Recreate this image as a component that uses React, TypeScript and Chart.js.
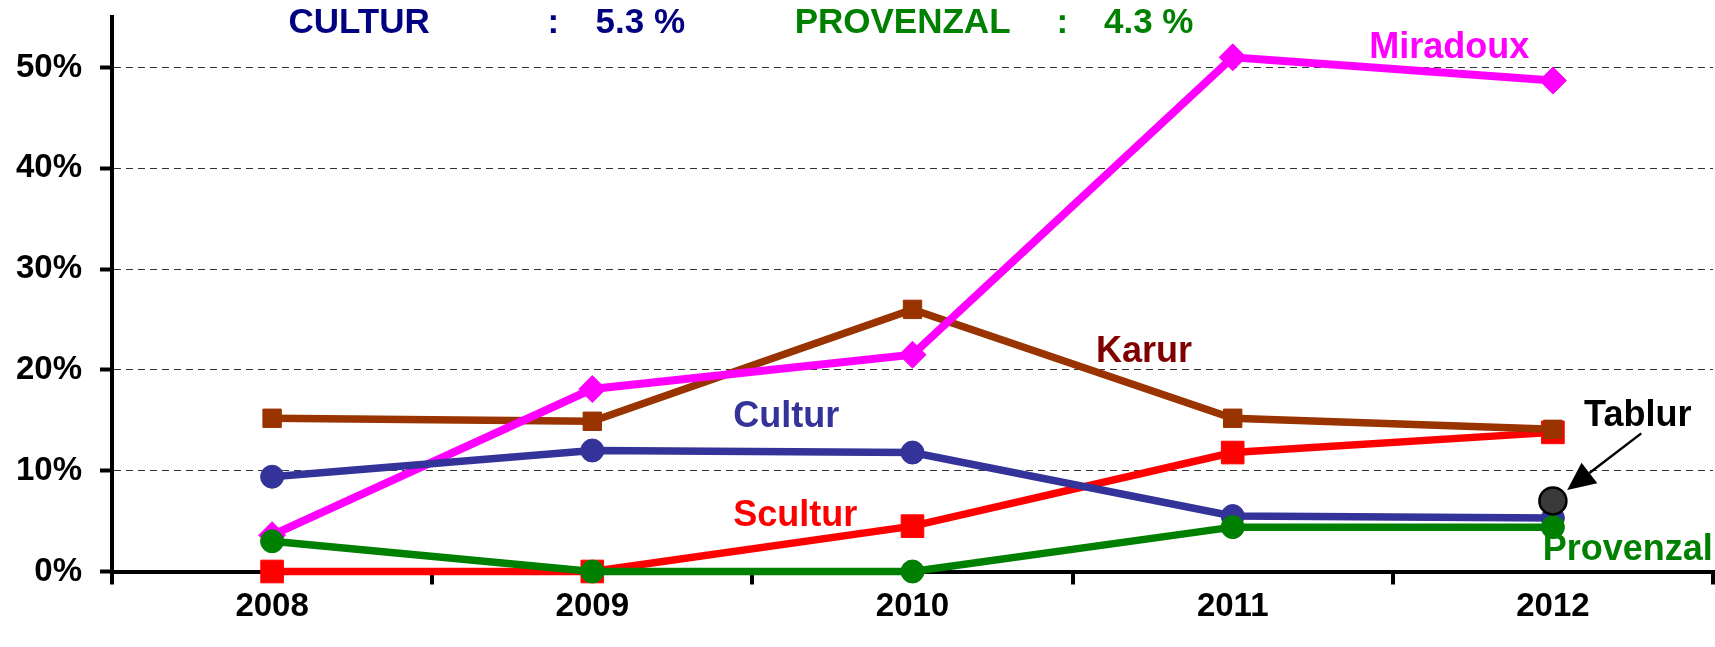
import React, { useEffect, useRef } from 'react';
import { Chart, registerables } from 'chart.js';

Chart.register(...registerables);

const years = ['2008', '2009', '2010', '2011', '2012'];
const miradoux = [3.6, 18.1, 21.5, 51.0, 48.7];
const karur = [15.2, 14.9, 26.0, 15.2, 14.1];
const cultur = [9.4, 12.0, 11.8, 5.5, 5.3];
const scultur = [0, 0, 4.5, 11.8, 13.8];
const provenzal = [3.0, 0, 0, 4.4, 4.4];
const tablur = [null, null, null, null, 7.0];
const yTicks = [0, 10, 20, 30, 40, 50];

const seriesLabels = ['Miradoux', 'Karur', 'Cultur', 'Scultur', 'Tablur', 'Provenzal'];
const seriesLabelColors = ['#FF00FF', '#800000', '#333399', '#FF0000', '#000000', '#008000'];
const seriesLabelIdx = [3.676, 2.723, 1.606, 1.634, 4.265, 4.234];
const seriesLabelVal = [51.9, 21.8, 15.3, 5.5, 15.45, 2.1];

const headerTexts = ['CULTUR', ':', '5.3 %', 'PROVENZAL', ':', '4.3 %'];
const headerColors = ['#000080', '#000080', '#000080', '#008000', '#008000', '#008000'];
const headerIdx = [0.051, 0.878, 1.01, 1.632, 2.468, 2.598];
const headerAlign = ['left', 'center', 'left', 'left', 'center', 'left'];
const headerVal = 54.4;

const arrowFromIdx = 4.276;
const arrowFromVal = 13.7;

const FONT = '"Liberation Sans", Arial, Helvetica, sans-serif';
const RIGHT_GAP = 2;

// Chart.js reserves room on the right for the last x label; the reference axis runs to the edge.
const fitRight = {
  id: 'fitRight',
  afterLayout(chart: any) {
    const ca = chart.chartArea;
    const target = chart.width - RIGHT_GAP;
    const xs = chart.scales.x;
    ca.right = target;
    ca.width = target - ca.left;
    xs.right = target;
    xs.width = target - xs.left;
    xs.configure();
  },
};

const annotate = {
  id: 'annotate',
  afterDatasetsDraw(chart: any) {
    const ctx = chart.ctx;
    const xs = chart.scales.x;
    const ys = chart.scales.y;
    const p0 = xs.getPixelForValue(0);
    const step = xs.getPixelForValue(1) - p0;
    const px = (i: number) => p0 + i * step;
    ctx.save();
    ctx.textBaseline = 'middle';
    // header
    ctx.font = `bold 35px ${FONT}`;
    headerTexts.forEach((t, i) => {
      ctx.fillStyle = headerColors[i];
      ctx.textAlign = headerAlign[i] as CanvasTextAlign;
      ctx.fillText(t, px(headerIdx[i]), ys.getPixelForValue(headerVal));
    });
    // series labels
    ctx.font = `bold 36px ${FONT}`;
    ctx.textAlign = 'center';
    seriesLabels.forEach((t, i) => {
      ctx.fillStyle = seriesLabelColors[i];
      ctx.fillText(t, px(seriesLabelIdx[i]), ys.getPixelForValue(seriesLabelVal[i]));
    });
    // arrow to Tablur point
    const meta = chart.getDatasetMeta(5);
    const pt = meta.data[4];
    if (pt) {
      const sx = px(arrowFromIdx);
      const sy = ys.getPixelForValue(arrowFromVal);
      const dx = sx - pt.x;
      const dy = sy - pt.y;
      const len = Math.hypot(dx, dy);
      const ux = dx / len;
      const uy = dy / len;
      const tipX = pt.x + ux * 18;
      const tipY = pt.y + uy * 18;
      const headLen = 28;
      const headHalf = 13;
      const bx = tipX + ux * headLen;
      const by = tipY + uy * headLen;
      ctx.strokeStyle = '#000';
      ctx.lineWidth = 2.5;
      ctx.beginPath();
      ctx.moveTo(sx, sy);
      ctx.lineTo(bx, by);
      ctx.stroke();
      ctx.fillStyle = '#000';
      ctx.beginPath();
      ctx.moveTo(tipX, tipY);
      ctx.lineTo(bx - uy * headHalf, by + ux * headHalf);
      ctx.lineTo(bx + uy * headHalf, by - ux * headHalf);
      ctx.closePath();
      ctx.fill();
    }
    ctx.restore();
  },
};

export default function App() {
  const ref = useRef<HTMLCanvasElement | null>(null);

  useEffect(() => {
    document.body.style.margin = '0';
    const canvas = ref.current;
    if (!canvas) return;
    const line = (label: string, data: any[], color: string, style: string, radius: number, order: number, width = 7.5) => ({
      label,
      data,
      borderColor: color,
      backgroundColor: color,
      borderWidth: width,
      pointStyle: style,
      pointRadius: radius,
      pointHoverRadius: radius,
      pointBackgroundColor: color,
      pointBorderColor: color,
      pointBorderWidth: 1,
      tension: 0,
      clip: false,
      order,
    });
    const chart = new Chart(canvas, {
      type: 'line',
      data: {
        labels: years,
        datasets: [
          line('Miradoux', miradoux, '#FF00FF', 'rectRot', 13.5, 3, 8),
          line('Karur', karur, '#993300', 'rect', 13, 4),
          line('Cultur', cultur, '#333399', 'circle', 11.5, 2),
          line('Scultur', scultur, '#FF0000', 'rect', 16, 5),
          line('Provenzal', provenzal, '#008000', 'circle', 11.5, 1),
          {
            label: 'Tablur',
            data: tablur,
            borderColor: '#000000',
            backgroundColor: '#3a3a3a',
            showLine: false,
            pointStyle: 'circle',
            pointRadius: 13.5,
            pointHoverRadius: 13.5,
            pointBackgroundColor: '#3a3a3a',
            pointBorderColor: '#000000',
            pointBorderWidth: 2.5,
            clip: false,
            order: 0,
          },
        ] as any,
      },
      options: {
        responsive: false,
        animation: false,
        devicePixelRatio: 1,
        layout: { padding: { top: 16.5, right: RIGHT_GAP, left: 0, bottom: 0 } },
        plugins: {
          legend: { display: false },
          tooltip: { enabled: false },
          title: { display: false },
        },
        events: [],
        scales: {
          x: {
            offset: true,
            afterFit: (s: any) => {
              s.height = 75.5;
              s.paddingLeft = 0;
              s.paddingRight = 0;
            },
            ticks: {
              color: '#000',
              padding: 3,
              font: { family: FONT, size: 33, weight: 'bold' },
            },
            grid: {
              offset: true,
              display: true,
              drawOnChartArea: false,
              drawTicks: true,
              tickLength: 13,
              tickWidth: 4,
              tickColor: '#000',
              color: '#000',
              lineWidth: 4,
            },
            border: { display: true, color: '#000', width: 4 },
          },
          y: {
            min: 0,
            max: 55,
            afterBuildTicks: (s: any) => {
              s.ticks = yTicks.map((v) => ({ value: v }));
            },
            afterFit: (s: any) => {
              s.width = 112;
              s.paddingTop = 0;
              s.paddingBottom = 0;
            },
            ticks: {
              color: '#000',
              padding: 18,
              callback: (v: any) => `${v}%`,
              font: { family: FONT, size: 33, weight: 'bold', lineHeight: 1 },
            },
            grid: {
              display: true,
              drawOnChartArea: true,
              drawTicks: true,
              tickLength: 12,
              tickWidth: 4,
              tickColor: '#000',
              color: '#333',
              lineWidth: 1,
            },
            border: { display: true, color: '#000', width: 4, dash: [7, 5] },
          },
        },
      } as any,
      plugins: [fitRight, annotate],
    });
    return () => chart.destroy();
  }, []);

  return (
    <div style={{ width: 1715, height: 647 }}>
      <canvas ref={ref} width={1715} height={647} style={{ display: 'block' }} />
    </div>
  );
}
